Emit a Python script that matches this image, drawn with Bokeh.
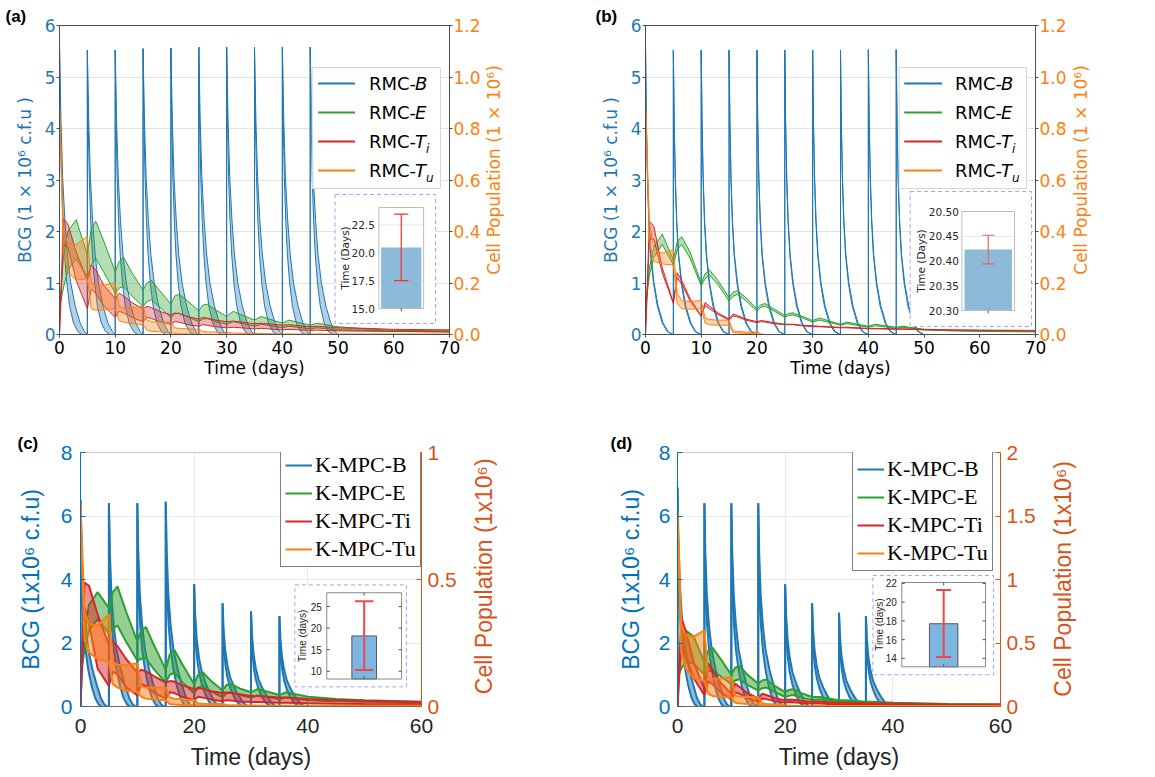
import math
from bokeh.plotting import figure
from bokeh.models import (Range1d, LinearAxis, Legend, LegendItem,
                          FixedTicker, PrintfTickFormatter, CustomJSTickFormatter)
from bokeh.layouts import column, row
from bokeh.embed import file_html
from bokeh.resources import INLINE
from bokeh.core.properties import value

# ============================ DATA ============================
tags = ["(a)", "(b)", "(c)", "(d)"]
legend_ab = [("RMC-", "B", ""), ("RMC-", "E", ""), ("RMC-", "T", "i"), ("RMC-", "T", "u")]
legend_cd = ["K-MPC-B", "K-MPC-E", "K-MPC-Ti", "K-MPC-Tu"]

x_ticks_ab = [0, 10, 20, 30, 40, 50, 60, 70]
x_ticks_cd = [0, 20, 40, 60]
bcg_ticks_ab = [0, 1, 2, 3, 4, 5, 6]
bcg_ticks_cd = [0, 2, 4, 6, 8]
cell_ticks_ab = [0, 0.2, 0.4, 0.6, 0.8, 1.0, 1.2]
cell_ticks_c = [0, 0.5, 1]
cell_ticks_d = [0, 0.5, 1, 1.5, 2]

# BCG doses (days) and peak values (1e6 c.f.u)
dose_ab = [0, 5, 10, 15, 20, 25, 30, 35, 40, 45]
dose_cd = [0, 5, 10, 15, 20, 25, 30, 35]
bcg_peak_a = [5.62, 5.52, 5.52, 5.55, 5.56, 5.58, 5.58, 5.58, 5.58, 5.58]
bcg_peak_b = [5.62, 5.52, 5.52, 5.52, 5.52, 5.52, 5.52, 5.52, 5.53, 5.53]
bcg_peak_c = [6.5, 6.4, 6.4, 6.45, 3.85, 3.25, 3.0, 2.85]
bcg_peak_d = [6.9, 6.4, 6.4, 6.4, 3.85, 3.25, 2.95, 2.85]
# decay after each dose: fraction of peak vs days after dose (fast / slow edge of band)
bcg_frac = [1.0, 0.75, 0.55, 0.40, 0.28, 0.18, 0.10, 0.04, 0.01, 0.0]
off_fast_a = [0, 0.15, 0.35, 0.6, 0.9, 1.3, 1.8, 2.5, 3.3, 4.0]
off_slow_a = [0, 0.25, 0.55, 0.95, 1.4, 2.0, 2.8, 3.7, 4.5, 4.98]
off_fast_b = [0, 0.14, 0.33, 0.57, 0.9, 1.42, 2.1, 3.0, 3.9, 4.9]
off_slow_b = [0, 0.15, 0.36, 0.62, 0.97, 1.52, 2.25, 3.15, 4.05, 4.98]
off_fast_cd = [0, 0.1, 0.28, 0.5, 0.85, 1.35, 1.95, 2.6, 3.2, 3.7]
off_slow_cd = [0, 0.18, 0.45, 0.85, 1.35, 2.1, 2.9, 3.6, 4.2, 4.7]

# time grids for cell populations
t_ab = [0, 0.7, 1.5, 3, 5, 5.7, 6.5, 8, 10, 10.7, 11.5, 13, 15, 15.7, 16.5, 18,
        20, 20.7, 21.5, 23, 25, 25.7, 26.5, 28, 30, 31.2, 35, 36.2, 40, 41.2,
        45, 46.2, 50, 55, 60, 70]
t_cd = [0, 0.7, 1.5, 3, 5, 5.7, 6.5, 8, 10, 10.7, 11.5, 13, 15, 15.7, 16.5, 18,
        20, 20.7, 21.5, 23, 25, 25.7, 26.5, 28, 30, 31.2, 35, 36.2, 40, 45, 50, 60]

# cell populations (1e6), lower / upper edges of each band
e_up_a = [0.10, 0.30, 0.40, 0.446, 0.31, 0.41, 0.44, 0.36, 0.244, 0.284, 0.30, 0.24, 0.172, 0.20, 0.21, 0.17,
          0.118, 0.15, 0.156, 0.13, 0.092, 0.114, 0.118, 0.096, 0.07, 0.09, 0.056, 0.07, 0.044, 0.056,
          0.036, 0.044, 0.03, 0.022, 0.016, 0.014]
e_lo_a = [0.10, 0.18, 0.25, 0.294, 0.224, 0.27, 0.296, 0.24, 0.16, 0.18, 0.186, 0.15, 0.108, 0.128, 0.134, 0.106,
          0.066, 0.08, 0.084, 0.068, 0.05, 0.06, 0.062, 0.05, 0.04, 0.05, 0.032, 0.04, 0.026, 0.032,
          0.022, 0.026, 0.018, 0.016, 0.012, 0.01]
ti_up_a = [0, 0.45, 0.43, 0.32, 0.21, 0.27, 0.25, 0.19, 0.14, 0.16, 0.15, 0.124, 0.10, 0.11, 0.104, 0.09,
           0.076, 0.084, 0.08, 0.07, 0.06, 0.066, 0.064, 0.056, 0.05, 0.052, 0.042, 0.044, 0.036, 0.038,
           0.03, 0.032, 0.026, 0.024, 0.02, 0.018]
ti_lo_a = [0, 0.35, 0.34, 0.21, 0.10, 0.176, 0.16, 0.11, 0.066, 0.09, 0.084, 0.066, 0.05, 0.066, 0.062, 0.05,
           0.04, 0.05, 0.048, 0.038, 0.032, 0.038, 0.036, 0.03, 0.026, 0.028, 0.022, 0.024, 0.018, 0.02,
           0.016, 0.017, 0.014, 0.013, 0.012, 0.01]
tu_up_a = [0.90, 0.40, 0.354, 0.35, 0.38, 0.20, 0.19, 0.192, 0.20, 0.11, 0.104, 0.104, 0.11, 0.056, 0.05, 0.048,
           0.048, 0.026, 0.024, 0.022, 0.02, 0.012, 0.01, 0.01, 0.008, 0.006, 0.004, 0.004, 0.002, 0.002,
           0.002, 0.002, 0.002, 0.002, 0.002, 0.002]
tu_lo_a = [0.90, 0.32, 0.24, 0.212, 0.216, 0.10, 0.094, 0.096, 0.10, 0.054, 0.048, 0.042, 0.038, 0.016, 0.012, 0.01,
           0.008, 0.004, 0.002, 0.002, 0.001, 0, 0, 0, 0, 0, 0, 0, 0, 0,
           0, 0, 0, 0, 0, 0]

e_up_b = [0.10, 0.26, 0.34, 0.39, 0.29, 0.36, 0.38, 0.32, 0.20, 0.236, 0.25, 0.21, 0.144, 0.164, 0.17, 0.144,
          0.10, 0.116, 0.12, 0.10, 0.074, 0.082, 0.084, 0.072, 0.054, 0.064, 0.04, 0.048, 0.032, 0.04,
          0.028, 0.032, 0.02, 0.016, 0.014, 0.012]
e_lo_b = [0.10, 0.23, 0.30, 0.35, 0.27, 0.33, 0.35, 0.296, 0.19, 0.216, 0.23, 0.194, 0.13, 0.148, 0.156, 0.132,
          0.09, 0.106, 0.11, 0.092, 0.066, 0.074, 0.076, 0.066, 0.048, 0.056, 0.036, 0.042, 0.028, 0.034,
          0.024, 0.028, 0.018, 0.014, 0.012, 0.01]
ti_up_b = [0, 0.44, 0.42, 0.26, 0.124, 0.24, 0.21, 0.14, 0.072, 0.124, 0.11, 0.084, 0.06, 0.08, 0.074, 0.06,
           0.05, 0.054, 0.052, 0.046, 0.04, 0.04, 0.04, 0.036, 0.034, 0.032, 0.028, 0.028, 0.024, 0.024,
           0.022, 0.022, 0.02, 0.018, 0.017, 0.016]
ti_lo_b = [0, 0.37, 0.37, 0.24, 0.12, 0.22, 0.196, 0.13, 0.07, 0.112, 0.10, 0.078, 0.056, 0.072, 0.068, 0.056,
           0.046, 0.05, 0.048, 0.042, 0.038, 0.038, 0.038, 0.034, 0.03, 0.03, 0.026, 0.026, 0.022, 0.022,
           0.02, 0.02, 0.018, 0.017, 0.016, 0.014]
tu_up_b = [0.90, 0.44, 0.33, 0.316, 0.33, 0.16, 0.132, 0.128, 0.132, 0.064, 0.058, 0.056, 0.056, 0.014, 0.012, 0.01,
           0.01, 0.002, 0, 0, 0, 0, 0, 0, 0, 0, 0, 0, 0, 0,
           0, 0, 0, 0, 0, 0]
tu_lo_b = [0.90, 0.36, 0.284, 0.274, 0.27, 0.12, 0.10, 0.098, 0.10, 0.044, 0.038, 0.036, 0.036, 0.008, 0.006, 0.004,
           0.004, 0, 0, 0, 0, 0, 0, 0, 0, 0, 0, 0, 0, 0,
           0, 0, 0, 0, 0, 0]

e_up_c = [0.113, 0.30, 0.40, 0.45, 0.388, 0.45, 0.473, 0.375, 0.256, 0.30, 0.313, 0.238, 0.145, 0.206, 0.223, 0.163,
          0.088, 0.125, 0.135, 0.10, 0.063, 0.085, 0.088, 0.071, 0.056, 0.069, 0.045, 0.056, 0.038, 0.03, 0.025, 0.019]
e_lo_c = [0.113, 0.225, 0.30, 0.344, 0.288, 0.306, 0.319, 0.256, 0.181, 0.188, 0.19, 0.144, 0.094, 0.125, 0.133, 0.094,
          0.051, 0.075, 0.081, 0.06, 0.036, 0.053, 0.056, 0.045, 0.035, 0.044, 0.028, 0.035, 0.025, 0.021, 0.019, 0.015]
ti_up_c = [0, 0.488, 0.475, 0.363, 0.244, 0.256, 0.238, 0.188, 0.133, 0.145, 0.138, 0.119, 0.094, 0.10, 0.098, 0.083,
           0.069, 0.073, 0.07, 0.06, 0.053, 0.055, 0.053, 0.048, 0.041, 0.041, 0.035, 0.035, 0.03, 0.026, 0.023, 0.018]
ti_lo_c = [0, 0.388, 0.325, 0.15, 0.081, 0.138, 0.125, 0.078, 0.043, 0.088, 0.081, 0.053, 0.031, 0.056, 0.053, 0.038,
           0.025, 0.038, 0.035, 0.028, 0.021, 0.025, 0.024, 0.02, 0.018, 0.018, 0.015, 0.015, 0.013, 0.011, 0.01, 0.009]
tu_up_c = [0.80, 0.375, 0.325, 0.319, 0.363, 0.175, 0.163, 0.163, 0.169, 0.081, 0.075, 0.075, 0.075, 0.035, 0.031, 0.028,
           0.025, 0.013, 0.011, 0.01, 0.01, 0.006, 0.005, 0.005, 0.004, 0.003, 0.003, 0.003, 0.003, 0.003, 0.003, 0.003]
tu_lo_c = [0.80, 0.263, 0.213, 0.188, 0.175, 0.088, 0.075, 0.063, 0.056, 0.038, 0.031, 0.028, 0.025, 0.01, 0.008, 0.006,
           0.006, 0.004, 0.003, 0.003, 0.001, 0, 0, 0, 0, 0, 0, 0, 0, 0, 0, 0]

e_up_d = [0.225, 0.475, 0.60, 0.55, 0.35, 0.438, 0.463, 0.375, 0.25, 0.305, 0.32, 0.25, 0.18, 0.205, 0.213, 0.165,
          0.113, 0.13, 0.138, 0.105, 0.075, 0.075, 0.075, 0.063, 0.05, 0.05, 0.038, 0.038, 0.03, 0.025, 0.02, 0.015]
e_lo_d = [0.225, 0.30, 0.35, 0.338, 0.25, 0.275, 0.288, 0.238, 0.175, 0.205, 0.215, 0.17, 0.125, 0.143, 0.15, 0.115,
          0.075, 0.085, 0.09, 0.07, 0.05, 0.053, 0.055, 0.045, 0.038, 0.038, 0.025, 0.025, 0.02, 0.018, 0.015, 0.013]
ti_up_d = [0, 0.70, 0.60, 0.35, 0.138, 0.338, 0.288, 0.188, 0.10, 0.18, 0.155, 0.105, 0.063, 0.10, 0.09, 0.068,
           0.05, 0.055, 0.053, 0.045, 0.038, 0.04, 0.038, 0.033, 0.03, 0.03, 0.025, 0.025, 0.023, 0.02, 0.018, 0.015]
ti_lo_d = [0, 0.50, 0.40, 0.225, 0.088, 0.20, 0.175, 0.113, 0.055, 0.113, 0.10, 0.065, 0.038, 0.063, 0.058, 0.043,
           0.03, 0.035, 0.033, 0.028, 0.023, 0.025, 0.023, 0.02, 0.018, 0.018, 0.015, 0.015, 0.013, 0.013, 0.01, 0.01]
tu_up_d = [1.525, 0.65, 0.563, 0.55, 0.60, 0.238, 0.218, 0.22, 0.233, 0.088, 0.078, 0.075, 0.075, 0.025, 0.02, 0.015,
           0.013, 0.005, 0.003, 0.003, 0.003, 0.003, 0.003, 0.003, 0.003, 0.003, 0.003, 0.003, 0.003, 0.003, 0.003, 0.003]
tu_lo_d = [1.525, 0.425, 0.30, 0.225, 0.20, 0.10, 0.083, 0.075, 0.07, 0.03, 0.025, 0.02, 0.018, 0.008, 0.005, 0.005,
           0.003, 0, 0, 0, 0, 0, 0, 0, 0, 0, 0, 0, 0, 0, 0, 0]

# inset bar charts: mean time (days) with error bars
inset_mean = [20.47, 20.423, 18.2, 17.7]
inset_lo = [17.5, 20.394, 10.3, 14.15]
inset_hi = [23.45, 20.452, 26.2, 21.3]
inset_ylim = [(15, 24.05), (20.30, 20.50), (8.2, 28.2), (13.1, 22.1)]
inset_ticks = [[15, 17.5, 20, 22.5], [20.30, 20.35, 20.40, 20.45, 20.50], [10, 15, 20, 25], [14, 16, 18, 20, 22]]
inset_tick_labels = [["15.0", "17.5", "20.0", "22.5"], ["20.30", "20.35", "20.40", "20.45", "20.50"],
                     ["10", "15", "20", "25"], ["14", "16", "18", "20", "22"]]

# ============================ STYLE / LAYOUT ============================
C_B, C_E, C_TI, C_TU = "#1f77b4", "#2ca02c", "#d62728", "#ff7f0e"
SERIES_COLORS = [C_B, C_E, C_TI, C_TU]

# main figure geometry (page pixels) + side strip carrying the right-hand axis title
GEOM = [
    dict(W=483, H=385, L=59, T=25, FW=392, FH=309, PX=0, PY=0, SW=95, SCX=10, SCY=180),
    dict(W=491, H=385, L=67, T=25, FW=392, FH=309, PX=578, PY=0, SW=86, SCX=11, SCY=180),
    dict(W=459, H=392, L=80, T=62, FW=342, FH=259, PX=0, PY=385, SW=119, SCX=24, SCY=191),
    dict(W=460, H=392, L=99, T=67, FW=324, FH=256, PX=578, PY=385, SW=117, SCX=24, SCY=195),
]
TAG_X = [10, 600, 22, 615]

STY_AB = dict(font="DejaVu Sans", tick_fs="17px", lab_fs="17px", left_c=C_B, right_c=C_TU,
              bottom_c="black", left_line="#4d4d4d", right_line="#4d4d4d", bottom_line="#4d4d4d",
              outline="#4d4d4d", tick_in=0, tick_out=3, xgrid=False, grid_c="#e2e2e2",
              alpha=0.35, lw=1.0, bcg_alpha=0.35, bcg_lw=1.0)
STY_CD = dict(font="Liberation Sans", tick_fs="21px", lab_fs="23px", left_c="#0072BD", right_c="#D95319",
              bottom_c="#262626", left_line="#0072BD", right_line="#D95319", bottom_line="#6a6a6a",
              outline="#c8c8c8", tick_in=5, tick_out=0, xgrid=True, grid_c="#e6ebf1",
              alpha=0.5, lw=2.0, bcg_alpha=0.5, bcg_lw=2.0)

INSET_STY = [
    dict(box=(336, 194, 437, 323), ax=(380, 207, 425, 308), mpl=True, frame="#bcbcbc", bar_w=0.9,
         bar_fill="#8ebad9", bar_line=None, err="#ff2a2a", err_w=1.2, cap_w=0.32, font="DejaVu Sans",
         fs="10.5px", tick_pad=4, ylab_pad=28, ylab="Time (Days)"),
    dict(box=(911, 191, 1033, 326), ax=(963, 211, 1016, 310), mpl=True, frame="#bcbcbc", bar_w=0.9,
         bar_fill="#8ebad9", bar_line=None, err="#e06666", err_w=1.2, cap_w=0.23, font="DejaVu Sans",
         fs="10.5px", tick_pad=3, ylab_pad=35, ylab="Time (Days)"),
    dict(box=(295, 582, 407, 686), ax=(327, 590, 402, 678), mpl=False, frame="#8a8a8a", bar_w=0.33,
         bar_fill="#7db6e0", bar_line="#3a3a3a", err="#f04848", err_w=2, cap_w=0.25, font="Liberation Sans",
         fs="10px", tick_pad=5, ylab_pad=19, ylab="Time (days)"),
    dict(box=(873, 576, 994, 676), ax=(902, 583, 986, 668), mpl=False, frame="#8a8a8a", bar_w=0.34,
         bar_fill="#7db6e0", bar_line="#3a3a3a", err="#f04848", err_w=2, cap_w=0.18, font="Liberation Sans",
         fs="10px", tick_pad=5, ylab_pad=17, ylab="Time (days)"),
]

PANELS = [
    dict(s=STY_AB, xr=(0, 70), yr=(0, 6), yr2=(0, 1.2), xt=x_ticks_ab, yt=bcg_ticks_ab, y2t=cell_ticks_ab,
         y2fmt="%.1f", ylab="BCG (1 × 10⁶ c.f.u )", y2lab="Cell Population (1 × 10⁶)",
         t=t_ab, doses=dose_ab, peaks=bcg_peak_a, off=(off_fast_a, off_slow_a),
         bands=[(e_lo_a, e_up_a), (ti_lo_a, ti_up_a), (tu_lo_a, tu_up_a)],
         tsd=(3, 1, 1), lsd=(1, 7),
         leg=dict(box=(313, 67, 442, 188), line=(319, 356), text=370, rows=(83, 112, 141, 170))),
    dict(s=STY_AB, xr=(0, 70), yr=(0, 6), yr2=(0, 1.2), xt=x_ticks_ab, yt=bcg_ticks_ab, y2t=cell_ticks_ab,
         y2fmt="%.1f", ylab="BCG (1 × 10⁶ c.f.u )", y2lab="Cell Population (1 × 10⁶)",
         t=t_ab, doses=dose_ab, peaks=bcg_peak_b, off=(off_fast_b, off_slow_b),
         bands=[(e_lo_b, e_up_b), (ti_lo_b, ti_up_b), (tu_lo_b, tu_up_b)],
         tsd=(3, 1, 1), lsd=(1, 7),
         leg=dict(box=(900, 67, 1028, 188), line=(905, 943), text=956, rows=(83, 112, 141, 170))),
    dict(s=STY_CD, xr=(0, 60), yr=(0, 8), yr2=(0, 1), xt=x_ticks_cd, yt=bcg_ticks_cd, y2t=cell_ticks_c,
         y2fmt=None, ylab="BCG (1x10⁶ c.f.u)", y2lab="Cell Population (1x10⁶)",
         t=t_cd, doses=dose_cd, peaks=bcg_peak_c, off=(off_fast_cd, off_slow_cd),
         bands=[(e_lo_c, e_up_c), (ti_lo_c, ti_up_c), (tu_lo_c, tu_up_c)],
         tsd=(12, 8, 6), lsd=(8, 14), legloc=(200, 139)),
    dict(s=STY_CD, xr=(0, 60), yr=(0, 8), yr2=(0, 2), xt=x_ticks_cd, yt=bcg_ticks_cd, y2t=cell_ticks_d,
         y2fmt=None, ylab="BCG (1x10⁶ c.f.u)", y2lab="Cell Population (1x10⁶)",
         t=t_cd, doses=dose_cd, peaks=bcg_peak_d, off=(off_fast_cd, off_slow_cd),
         bands=[(e_lo_d, e_up_d), (ti_lo_d, ti_up_d), (tu_lo_d, tu_up_d)],
         tsd=(12, 7, 6), lsd=(8, 12), legloc=(175, 135)),
]


def to_data(g, xr, yr, px, py):
    fx0 = g["PX"] + g["L"]
    fyb = g["PY"] + g["T"] + g["FH"]
    return (xr[0] + (px - fx0) / g["FW"] * (xr[1] - xr[0]),
            yr[0] + (fyb - py) / g["FH"] * (yr[1] - yr[0]))


def style_axis(ax, s, color, line_color, tick_sd, lab_sd, label):
    ax.axis_label = label
    ax.axis_label_text_font = s["font"]
    ax.axis_label_text_font_size = s["lab_fs"]
    ax.axis_label_text_font_style = "normal"
    ax.axis_label_text_color = color
    ax.axis_label_standoff = lab_sd
    ax.major_label_text_font = s["font"]
    ax.major_label_text_font_size = s["tick_fs"]
    ax.major_label_text_color = color
    ax.major_label_standoff = tick_sd
    ax.major_tick_in = s["tick_in"]
    ax.major_tick_out = s["tick_out"]
    ax.major_tick_line_color = line_color
    ax.minor_tick_line_color = None
    ax.axis_line_color = line_color


def draw_bcg(p, doses, peaks, off_fast, off_slow, s):
    fx, fy, sx, sy, px, py = [], [], [], [], [], []
    for d, pk in zip(doses, peaks):
        xf = [d + o for o in off_fast]
        xs = [d + o for o in off_slow]
        yv = [pk * f for f in bcg_frac]
        fx.append([d] + xf); fy.append([0] + yv)
        sx.append([d] + xs); sy.append([0] + yv)
        px.append(xf + xs[::-1]); py.append(yv + yv[::-1])
    p.patches(px, py, fill_color=C_B, fill_alpha=s["bcg_alpha"], line_color=None)
    r = p.multi_line(fx, fy, line_color=C_B, line_width=s["bcg_lw"])
    p.multi_line(sx, sy, line_color=C_B, line_width=s["bcg_lw"])
    return r


def draw_band(p, t, lo, up, color, s):
    p.varea(x=t, y1=lo, y2=up, y_range_name="cell", fill_color=color, fill_alpha=s["alpha"])
    r = p.line(t, up, y_range_name="cell", line_color=color, line_width=s["lw"])
    p.line(t, lo, y_range_name="cell", line_color=color, line_width=s["lw"])
    return r


def draw_mpl_legend(p, g, xr, yr, leg):
    b = leg["box"]
    l, bt = to_data(g, xr, yr, b[0], b[3])
    r, tp = to_data(g, xr, yr, b[2], b[1])
    p.quad(left=[l], right=[r], bottom=[bt], top=[tp], fill_color="white", fill_alpha=0.85,
           line_color="#d6d6d6", line_width=1)
    for (pre, it, sub), col, ry in zip(legend_ab, SERIES_COLORS, leg["rows"]):
        x0, y0 = to_data(g, xr, yr, leg["line"][0], ry)
        x1, _ = to_data(g, xr, yr, leg["line"][1], ry)
        p.line([x0, x1], [y0, y0], line_color=col, line_width=2.2)
        tx, _ = to_data(g, xr, yr, leg["text"], ry)
        common = dict(text_baseline="middle", text_align="left", text_font=value("DejaVu Sans"),
                      text_color="black")
        p.text(x=[tx], y=[y0], text=[pre], text_font_size="18px", **common)
        p.text(x=[tx], y=[y0], text=[it], x_offset=46, text_font_size="18px",
               text_font_style="italic", **common)
        if sub:
            p.text(x=[tx], y=[y0], text=[sub], x_offset=57, y_offset=7, text_font_size="12px",
                   text_font_style="italic", **common)


def draw_inset(p, g, xr, yr, k):
    ist = INSET_STY[k]
    bl, bb = to_data(g, xr, yr, ist["box"][0], ist["box"][3])
    br, bt = to_data(g, xr, yr, ist["box"][2], ist["box"][1])
    p.quad(left=[bl], right=[br], bottom=[bb], top=[bt], fill_color="white",
           line_color="#a3a3ff", line_width=1, line_dash="4 3")
    al, ab = to_data(g, xr, yr, ist["ax"][0], ist["ax"][3])
    ar, at = to_data(g, xr, yr, ist["ax"][2], ist["ax"][1])
    y0, y1 = inset_ylim[k]
    sub = p.subplot(x_source=Range1d(0, 1), y_source=Range1d(y0, y1),
                    x_target=Range1d(al, ar), y_target=Range1d(ab, at))
    wpx = ist["ax"][2] - ist["ax"][0]
    hpx = ist["ax"][3] - ist["ax"][1]
    ux = 1.0 / wpx
    uy = (y1 - y0) / hpx
    ticks = inset_ticks[k]
    n = len(ticks)
    if ist["mpl"]:
        sub.segment(x0=[0] * n, x1=[1] * n, y0=ticks, y1=ticks, line_color="#e8e8e8", line_width=1)
    sub.vbar(x=[0.5], top=[inset_mean[k]], bottom=y0, width=ist["bar_w"], fill_color=ist["bar_fill"],
             line_color=ist["bar_line"], line_width=0.8)
    sub.quad(left=[0], right=[1], bottom=[y0], top=[y1], fill_color=None, line_color=ist["frame"], line_width=1)
    if ist["mpl"]:
        sub.segment(x0=[0.5], x1=[0.5], y0=[y0], y1=[y0 - 3 * uy], line_color="#555555")
    else:
        sub.segment(x0=[0] * n, x1=[3 * ux] * n, y0=ticks, y1=ticks, line_color="#555555")
        sub.segment(x0=[1] * n, x1=[1 - 3 * ux] * n, y0=ticks, y1=ticks, line_color="#555555")
        sub.segment(x0=[0.5, 0.5], x1=[0.5, 0.5], y0=[y0, y1], y1=[y0 + 3 * uy, y1 - 3 * uy],
                    line_color="#555555")
    cw = ist["cap_w"]
    lo, hi = inset_lo[k], inset_hi[k]
    sub.segment(x0=[0.5], x1=[0.5], y0=[lo], y1=[hi], line_color=ist["err"], line_width=ist["err_w"])
    sub.segment(x0=[0.5 - cw / 2] * 2, x1=[0.5 + cw / 2] * 2, y0=[lo, hi], y1=[lo, hi],
                line_color=ist["err"], line_width=ist["err_w"])
    sub.text(x=[0] * n, y=ticks, text=inset_tick_labels[k], x_offset=-ist["tick_pad"], text_align="right",
             text_baseline="middle", text_font=value(ist["font"]), text_font_size=ist["fs"], text_color="#262626")
    sub.text(x=[0], y=[(y0 + y1) / 2], text=[ist["ylab"]], angle=math.pi / 2, x_offset=-ist["ylab_pad"],
             text_align="center", text_baseline="bottom", text_font=value(ist["font"]),
             text_font_size=ist["fs"], text_color="#262626")


def make_side_title(k):
    """Narrow strip right of a panel carrying the right-axis title, reading bottom to top."""
    cfg = PANELS[k]
    g = GEOM[k]
    s = cfg["s"]
    f = figure(width=g["SW"], height=g["H"], x_range=Range1d(0, g["SW"]), y_range=Range1d(0, g["H"]),
               output_backend="svg", toolbar_location=None, x_axis_type=None, y_axis_type=None,
               min_border=0, outline_line_color=None)
    f.background_fill_color = "white"
    f.border_fill_color = "white"
    f.text(x=[g["SCX"]], y=[g["H"] - g["SCY"]], text=[cfg["y2lab"]], angle=math.pi / 2,
           text_align="center", text_baseline="middle", text_font=value(s["font"]),
           text_font_size=s["lab_fs"], text_color=s["right_c"])
    return f


def make_panel(k):
    cfg = PANELS[k]
    g = GEOM[k]
    s = cfg["s"]
    xr, yr, yr2 = cfg["xr"], cfg["yr"], cfg["yr2"]
    p = figure(width=g["W"], height=g["H"], x_range=Range1d(*xr), y_range=Range1d(*yr),
               output_backend="svg", toolbar_location=None, title=tags[k],
               min_border_left=g["L"], min_border_right=g["W"] - g["L"] - g["FW"],
               min_border_top=g["T"], min_border_bottom=g["H"] - g["T"] - g["FH"])
    # panel tag as a left-aligned title above the frame
    p.title.align = "left"
    p.title.offset = TAG_X[k] - (g["PX"] + g["L"]) - 5
    p.title.text_font = "Liberation Sans"
    p.title.text_font_size = "17px"
    p.title.text_font_style = "bold"
    p.title.text_color = "black"
    p.title.standoff = 0

    p.extra_y_ranges = {"cell": Range1d(*yr2)}
    p.background_fill_color = "white"
    p.border_fill_color = "white"
    p.outline_line_color = s["outline"]
    p.outline_line_width = 1

    xa = p.xaxis[0]
    ya = p.yaxis[0]
    xa.ticker = FixedTicker(ticks=cfg["xt"])
    ya.ticker = FixedTicker(ticks=cfg["yt"])
    ra = LinearAxis(y_range_name="cell", ticker=FixedTicker(ticks=cfg["y2t"]))
    if cfg["y2fmt"]:
        ra.formatter = PrintfTickFormatter(format=cfg["y2fmt"])
    else:
        ra.formatter = CustomJSTickFormatter(code="return String(Math.round(tick*100)/100);")
    p.add_layout(ra, "right")
    tsd, lsd = cfg["tsd"], cfg["lsd"]
    style_axis(xa, s, s["bottom_c"], s["bottom_line"], tsd[0], lsd[0], "Time (days)")
    style_axis(ya, s, s["left_c"], s["left_line"], tsd[1], lsd[1], cfg["ylab"])
    style_axis(ra, s, s["right_c"], s["right_line"], tsd[2], 0, None)

    p.xgrid.ticker = xa.ticker
    p.ygrid.ticker = ya.ticker
    p.ygrid.grid_line_color = s["grid_c"]
    p.xgrid.grid_line_color = s["grid_c"] if s["xgrid"] else None

    # curves
    rend = [draw_bcg(p, cfg["doses"], cfg["peaks"], cfg["off"][0], cfg["off"][1], s)]
    for (lo, up), col in zip(cfg["bands"], SERIES_COLORS[1:]):
        rend.append(draw_band(p, cfg["t"], lo, up, col, s))

    # legend
    if "leg" in cfg:
        draw_mpl_legend(p, g, xr, yr, cfg["leg"])
    else:
        items = [LegendItem(label=lab, renderers=[r]) for lab, r in zip(legend_cd, rend)]
        leg = Legend(items=items, location=cfg["legloc"], label_text_font="Liberation Serif",
                     label_text_font_size="22px", label_text_color="black", glyph_width=27, glyph_height=20,
                     label_height=25, label_standoff=3, spacing=2, padding=4, margin=0,
                     border_line_color="black", border_line_width=1, background_fill_alpha=1.0)
        p.add_layout(leg)

    # inset
    draw_inset(p, g, xr, yr, k)
    return p


figs = [make_panel(k) for k in range(4)]
sides = [make_side_title(k) for k in range(4)]
layout = column(row(figs[0], sides[0], figs[1], sides[1]),
                row(figs[2], sides[2], figs[3], sides[3]))
open("out.html", "w").write(file_html(layout, INLINE, "BCG therapy simulations"))
